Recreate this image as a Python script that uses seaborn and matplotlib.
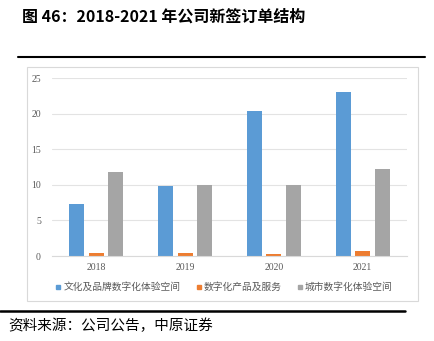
import matplotlib
matplotlib.use("Agg")
import matplotlib.pyplot as plt
from matplotlib.patches import Rectangle
from matplotlib.lines import Line2D
import seaborn as sns
import pandas as pd

years = ["2018", "2019", "2020", "2021"]
series = ["文化及品牌数字化体验空间", "数字化产品及服务", "城市数字化体验空间"]
culture_brand = [7.3, 9.8, 20.4, 23.1]
digital_products = [0.4, 0.4, 0.3, 0.7]
city_space = [11.8, 10.0, 10.0, 12.2]
yticks = [0, 5, 10, 15, 20, 25]
colors = ["#5B9BD5", "#ED7D31", "#A5A5A5"]

df = pd.DataFrame({
    "year": years * 3,
    "value": culture_brand + digital_products + city_space,
    "series": [series[0]] * 4 + [series[1]] * 4 + [series[2]] * 4,
})

sns.set_theme(style="white")
plt.rcParams["font.family"] = ["Noto Sans CJK SC", "DejaVu Sans"]

fig = plt.figure(figsize=(4.35, 3.41), dpi=100)
W, H = 435, 341

# chart frame
fig.add_artist(Rectangle((27 / W, 1 - 301 / H), (418 - 27) / W, (301 - 67) / H,
                         transform=fig.transFigure, fill=False,
                         edgecolor="#D9D9D9", linewidth=0.8))

ax = fig.add_axes([52 / W, 1 - 256 / H, (407 - 52) / W, (256 - 78) / H])
sns.barplot(data=df, x="year", y="value", hue="series", palette=colors,
            width=0.66, gap=0.23, ax=ax, saturation=1, edgecolor="none")

ax.set_xlim(-0.5, 3.5)
ax.set_ylim(0, 25)
ax.set_yticks(yticks)
ax.set_xlabel("")
ax.set_ylabel("")
ax.grid(axis="y", color="#E3E3E3", linewidth=0.8)
ax.set_axisbelow(True)
for s in ["top", "right", "left"]:
    ax.spines[s].set_visible(False)
ax.spines["bottom"].set_color("#D9D9D9")
ax.spines["bottom"].set_linewidth(0.8)
ax.tick_params(axis="both", length=0, colors="#595959", labelsize=7)
for lab in ax.get_xticklabels() + ax.get_yticklabels():
    lab.set_fontfamily(["Liberation Serif", "DejaVu Serif"])
ax.tick_params(axis="y", pad=8)
ax.tick_params(axis="x", pad=5)

ax.get_legend().remove()
handles = [Line2D([], [], marker="s", linestyle="none", markersize=3.5,
                  markerfacecolor=c, markeredgecolor=c) for c in colors]
fig.legend(handles, series, loc="center", bbox_to_anchor=(224 / W, 1 - 287 / H),
           ncol=3, frameon=False, fontsize=7, labelcolor="#595959",
           handlelength=0.6, handletextpad=0.2, columnspacing=1.6)

# header & footer
fig.text(22 / W, 1 - 17 / H, "图 46：2018-2021 年公司新签订单结构", fontsize=11.5,
         fontweight="bold", va="center", ha="left", color="black")
fig.add_artist(Line2D([18 / W, 425 / W], [1 - 57 / H, 1 - 57 / H],
                      transform=fig.transFigure, color="black", linewidth=1.5))
fig.add_artist(Line2D([0, 405 / W], [1 - 311 / H, 1 - 311 / H],
                      transform=fig.transFigure, color="black", linewidth=1.8))
fig.text(8 / W, 1 - 326 / H, "资料来源：公司公告，中原证券", fontsize=10.5,
         va="center", ha="left", color="black")

fig.savefig("out.png", dpi=100)
